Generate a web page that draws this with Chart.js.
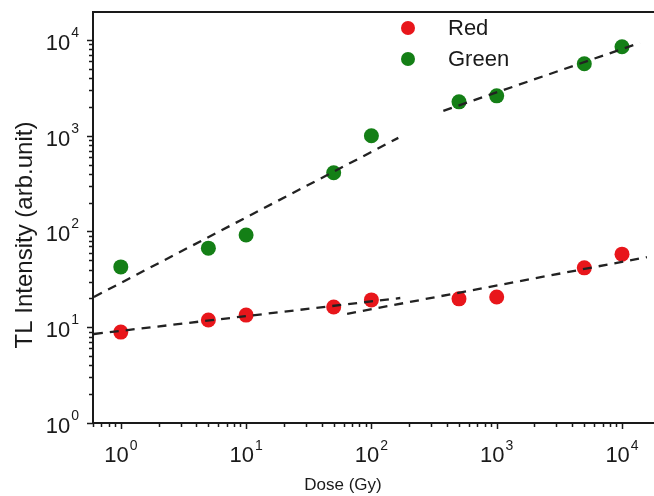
<!DOCTYPE html>
<html>
<head>
<meta charset="utf-8">
<script src="https://cdn.jsdelivr.net/npm/chart.js@4.4.0/dist/chart.umd.min.js"></script>
<style>
  html, body { margin: 0; padding: 0; background: #fff; }
  canvas { display: block; }
</style>
</head>
<body>
<canvas id="tlChart" width="654" height="496"></canvas>
<script>
// TL intensity vs dose (log-log), red and green emission

const doses = [1, 5, 10, 50, 100, 500, 1000, 5000, 10000];
const redValues = [8.9, 11.9, 13.4, 16.3, 19.3, 19.8, 20.7, 41.7, 58];
const greenValues = [42.7, 67, 92, 410, 1000, 2260, 2610, 5640, 8490];

// dashed fit segments, start/end in data units
const redFitLow = [{ x: 0.61, y: 8.5 }, { x: 170, y: 20.2 }];
const redFitHigh = [{ x: 64, y: 13.8 }, { x: 15800, y: 54 }];
const greenFitLow = [{ x: 0.61, y: 20.7 }, { x: 164, y: 950 }];
const greenFitHigh = [{ x: 375, y: 1820 }, { x: 13900, y: 9340 }];

const majorTicks = [1, 10, 100, 1000, 10000];
const tickExponents = ['0', '1', '2', '3', '4'];
const minorSteps = [2, 3, 4, 5, 6, 7, 8, 9];
const decades = [0.1, 1, 10, 100, 1000, 10000];

const RED = '#e8161b';
const GREEN = '#147f16';
const INK = '#1a1a1a';
const FONT = '"Liberation Sans", Arial, sans-serif';

function toPoints(values) {
  return doses.map((d, i) => ({ x: d, y: values[i] }));
}

function fitLine(data) {
  return {
    data,
    showLine: true,
    pointRadius: 0,
    borderColor: '#222',
    borderWidth: 2.3,
    borderDash: [9, 7],
    order: 0,
  };
}

const axesPlugin = {
  id: 'logAxes',
  afterDraw(chart) {
    const { ctx, chartArea: a, scales: { x, y } } = chart;
    ctx.save();

    // frame: left, bottom, top
    ctx.strokeStyle = INK;
    ctx.lineWidth = 2;
    ctx.beginPath();
    ctx.moveTo(a.right, a.top);
    ctx.lineTo(a.left, a.top);
    ctx.lineTo(a.left, a.bottom);
    ctx.lineTo(a.right, a.bottom);
    ctx.stroke();

    // tick marks, outward
    ctx.lineWidth = 1.5;
    ctx.beginPath();
    decades.forEach(d => {
      [1, ...minorSteps].forEach(m => {
        const v = d * m;
        const len = m === 1 ? 6 : 4;
        if (v >= x.min && v <= x.max) {
          const px = Math.round(x.getPixelForValue(v)) + 0.5;
          ctx.moveTo(px, a.bottom);
          ctx.lineTo(px, a.bottom + len);
        }
        if (v >= y.min && v <= y.max) {
          const py = Math.round(y.getPixelForValue(v)) + 0.5;
          ctx.moveTo(a.left, py);
          ctx.lineTo(a.left - len, py);
        }
      });
    });
    ctx.stroke();

    // tick labels 10^n
    ctx.fillStyle = INK;
    ctx.textBaseline = 'alphabetic';
    const bigFont = '22px ' + FONT;
    const supFont = '14px ' + FONT;
    majorTicks.forEach((v, i) => {
      const exp = tickExponents[i];
      ctx.font = bigFont;
      const wBase = ctx.measureText('10').width;
      ctx.font = supFont;
      const wExp = ctx.measureText(exp).width;

      // y axis
      const py = y.getPixelForValue(v);
      ctx.textAlign = 'left';
      const yStart = 79 - wExp - wBase - 1;
      ctx.font = bigFont;
      ctx.fillText('10', yStart, py + 10);
      ctx.font = supFont;
      ctx.fillText(exp, yStart + wBase + 1, py - 3);

      // x axis
      const px = x.getPixelForValue(v);
      const xStart = px - (wBase + wExp + 1) / 2;
      ctx.font = bigFont;
      ctx.fillText('10', xStart, 462);
      ctx.font = supFont;
      ctx.fillText(exp, xStart + wBase + 1, 450);
    });

    // axis titles
    ctx.font = '17px ' + FONT;
    ctx.textAlign = 'center';
    ctx.fillText('Dose (Gy)', 343, 490);

    ctx.save();
    ctx.translate(25, 235);
    ctx.rotate(-Math.PI / 2);
    ctx.font = '24px ' + FONT;
    ctx.textBaseline = 'middle';
    ctx.fillText('TL Intensity (arb.unit)', 0, 0);
    ctx.restore();

    // legend
    const items = [['Red', RED, 28], ['Green', GREEN, 59]];
    ctx.font = '22px ' + FONT;
    ctx.textAlign = 'left';
    ctx.textBaseline = 'middle';
    items.forEach(([label, color, ly]) => {
      ctx.fillStyle = color;
      ctx.beginPath();
      ctx.arc(408, ly, 7, 0, Math.PI * 2);
      ctx.fill();
      ctx.fillStyle = INK;
      ctx.fillText(label, 448, ly + 1);
    });

    ctx.restore();
  },
};

new Chart(document.getElementById('tlChart'), {
  type: 'scatter',
  data: {
    datasets: [
      fitLine(redFitLow),
      fitLine(redFitHigh),
      fitLine(greenFitLow),
      fitLine(greenFitHigh),
      { label: 'Red', data: toPoints(redValues), backgroundColor: RED, borderWidth: 0, pointRadius: 7.5, pointHoverRadius: 7.5, order: 1 },
      { label: 'Green', data: toPoints(greenValues), backgroundColor: GREEN, borderWidth: 0, pointRadius: 7.5, pointHoverRadius: 7.5, order: 1 },
    ],
  },
  options: {
    responsive: false,
    animation: false,
    layout: { autoPadding: false, padding: { left: 93, top: 12, right: 0, bottom: 73 } },
    plugins: { legend: { display: false }, tooltip: { enabled: false } },
    scales: {
      x: { type: 'logarithmic', min: 0.61, max: 18000, display: false },
      y: { type: 'logarithmic', min: 1, max: 19600, display: false },
    },
  },
  plugins: [axesPlugin],
});
</script>
</body>
</html>
